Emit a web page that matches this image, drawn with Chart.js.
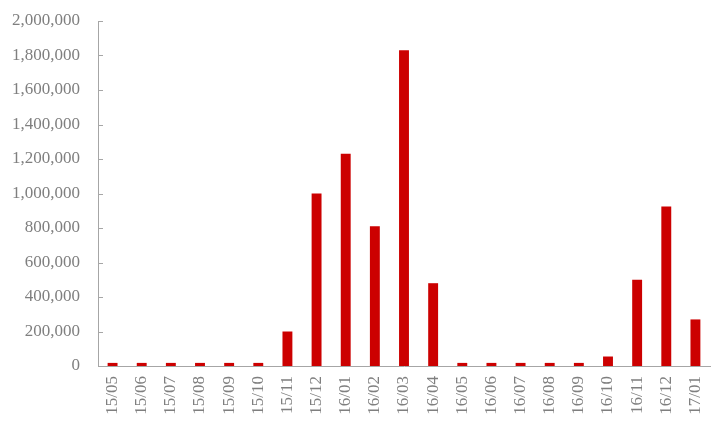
<!DOCTYPE html>
<html>
<head>
<meta charset="utf-8">
<script src="https://cdn.jsdelivr.net/npm/chart.js@4/dist/chart.umd.min.js"></script>
<style>
  html, body { margin: 0; padding: 0; background: #fff; }
  #wrap { width: 720px; height: 432px; }
</style>
</head>
<body>
<div id="wrap"><canvas id="chart"></canvas></div>
<script>
// Monthly values
const months = ['15/05', '15/06', '15/07', '15/08', '15/09', '15/10', '15/11', '15/12',
  '16/01', '16/02', '16/03', '16/04', '16/05', '16/06', '16/07', '16/08', '16/09',
  '16/10', '16/11', '16/12', '17/01'];
const values = [18000, 18000, 18000, 18000, 18000, 18000, 200000, 1000000,
  1230000, 810000, 1830000, 480000, 18000, 18000, 18000, 18000, 18000,
  55000, 500000, 925000, 270000];
const yMax = 2000000;
const yStep = 200000;

const AXIS_GREY = '#a6a6a6';
const TEXT_GREY = '#7f7f7f';
const FONT = "'Liberation Serif', 'Times New Roman', serif";

// small tick marks pointing into the plot, like the source chart
const innerTicks = {
  id: 'innerTicks',
  afterDraw(chart) {
    const { ctx, scales: { y } } = chart;
    ctx.save();
    ctx.strokeStyle = AXIS_GREY;
    ctx.lineWidth = 1;
    y.ticks.forEach(t => {
      const py = Math.round(y.getPixelForValue(t.value)) + 0.5;
      ctx.beginPath();
      ctx.moveTo(y.right, py);
      ctx.lineTo(y.right + 5, py);
      ctx.stroke();
    });
    ctx.restore();
  }
};

new Chart(document.getElementById('chart'), {
  type: 'bar',
  data: {
    labels: months,
    datasets: [{
      data: values,
      backgroundColor: '#cc0000',
      barPercentage: 0.34,
      categoryPercentage: 1.0,
    }]
  },
  options: {
    responsive: true,
    maintainAspectRatio: false,
    animation: false,
    layout: { padding: { top: 21, right: 10, left: 0, bottom: 0 } },
    plugins: {
      legend: { display: false },
      tooltip: { enabled: false }
    },
    scales: {
      x: {
        grid: { display: false, drawTicks: false },
        border: { color: AXIS_GREY, width: 1 },
        ticks: {
          color: TEXT_GREY,
          font: { family: FONT, size: 17 },
          minRotation: 90,
          maxRotation: 90,
          padding: 10,
          autoSkip: false,
        },
        afterFit: s => { s.height = 66; s.paddingLeft = 0; s.paddingRight = 0; }
      },
      y: {
        min: 0,
        max: yMax,
        grid: { display: false, drawTicks: false },
        border: { color: AXIS_GREY, width: 1 },
        ticks: {
          stepSize: yStep,
          color: TEXT_GREY,
          font: { family: FONT, size: 17 },
          padding: 18,
          callback: v => v.toLocaleString('en-US'),
        },
        afterFit: s => { s.width = 98; s.paddingTop = 0; s.paddingBottom = 0; }
      }
    }
  },
  plugins: [innerTicks]
});
</script>
</body>
</html>
